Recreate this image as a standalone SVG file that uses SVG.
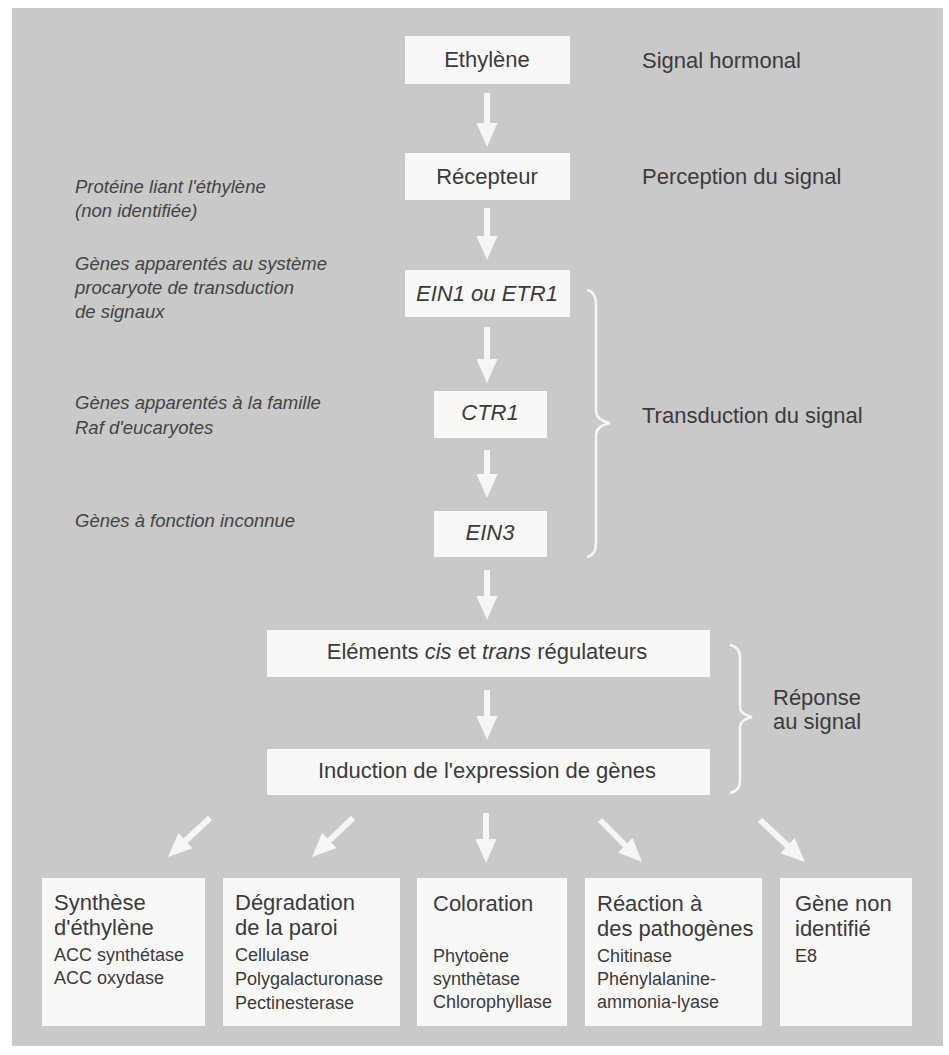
<svg xmlns="http://www.w3.org/2000/svg" width="949" height="1055" viewBox="0 0 949 1055">
<defs>
<marker id="ah" markerUnits="userSpaceOnUse" markerWidth="24" markerHeight="21" viewBox="0 0 24 21" refX="12" refY="10.5" orient="auto">
<path d="M0,0 L24,10.5 L0,21 z" fill="#f6f6f6"/>
</marker>
<style>
.bg{fill:#c9c9c9}
.box{fill:#f8f8f7}
.t{font-family:"Liberation Sans",Arial,sans-serif;font-size:22px;fill:#3b3b3b}
.i{font-family:"Liberation Sans",Arial,sans-serif;font-size:18.5px;font-style:italic;fill:#444}
.s{font-family:"Liberation Sans",Arial,sans-serif;font-size:18px;fill:#3b3b3b}
.c{text-anchor:middle}
.it{font-style:italic}
.arr{stroke:#f6f6f6;stroke-width:6;fill:none;marker-end:url(#ah)}
.br{stroke:#f6f6f6;stroke-width:2.5;fill:none}
</style>
</defs>
<rect x="0" y="0" width="949" height="1055" fill="#ffffff"/>
<rect class="bg" x="12" y="8" width="931" height="1038"/>

<g id="connectors">
<line class="arr" x1="487" y1="93" x2="487" y2="135"/>
<line class="arr" x1="487" y1="208" x2="487" y2="248"/>
<line class="arr" x1="487" y1="327" x2="487" y2="371"/>
<line class="arr" x1="487" y1="450" x2="487" y2="486"/>
<line class="arr" x1="487" y1="570" x2="487" y2="608"/>
<line class="arr" x1="487" y1="690" x2="487" y2="728"/>
<line class="arr" x1="210" y1="818" x2="176.8" y2="848.8"/>
<line class="arr" x1="353" y1="818" x2="320.7" y2="848.7"/>
<line class="arr" x1="486" y1="813" x2="486" y2="851"/>
<line class="arr" x1="600" y1="820" x2="633.5" y2="853.5"/>
<line class="arr" x1="760" y1="820" x2="796.2" y2="853.8"/>
<path class="br" d="M587,290 Q596,292 596,305 L596,411 Q596,420 610,423 Q596,426 596,435 L596,543 Q596,555 587,557"/>
<path class="br" d="M730,645 Q740,647 740,658 L740,707 Q740,714 752,717 Q740,720 740,727 L740,781 Q740,791 730,793"/>
</g>

<g id="ethylene">
<rect class="box" x="405" y="36" width="165" height="48"/>
<text class="t c" x="487" y="67">Ethylène</text>
</g>
<g id="recepteur">
<rect class="box" x="405" y="153" width="165" height="47"/>
<text class="t c" x="487" y="184">Récepteur</text>
</g>
<g id="ein1">
<rect class="box" x="405" y="270" width="165" height="47"/>
<text class="t c it" x="487" y="301">EIN1 ou ETR1</text>
</g>
<g id="ctr1">
<rect class="box" x="434" y="391" width="113" height="47"/>
<text class="t c it" x="490" y="420">CTR1</text>
</g>
<g id="ein3">
<rect class="box" x="434" y="511" width="113" height="46"/>
<text class="t c it" x="490" y="540">EIN3</text>
</g>
<g id="elements">
<rect class="box" x="267" y="630" width="443" height="47"/>
<text class="t c" x="487" y="659">Eléments <tspan class="it">cis</tspan> et <tspan class="it">trans</tspan> régulateurs</text>
</g>
<g id="induction">
<rect class="box" x="267" y="749" width="443" height="46"/>
<text class="t c" x="487" y="778">Induction de l'expression de gènes</text>
</g>

<g id="labels-right">
<text class="t" x="642" y="68">Signal hormonal</text>
<text class="t" x="642" y="184">Perception du signal</text>
<text class="t" x="642" y="423">Transduction du signal</text>
<text class="t" x="773" y="705">Réponse</text>
<text class="t" x="773" y="729">au signal</text>
</g>

<g id="labels-left">
<text class="i" x="75" y="193">Protéine liant l'éthylène</text>
<text class="i" x="75" y="217">(non identifiée)</text>
<text class="i" x="75" y="270">Gènes apparentés au système</text>
<text class="i" x="75" y="294">procaryote de transduction</text>
<text class="i" x="75" y="318">de signaux</text>
<text class="i" x="75" y="409">Gènes apparentés à la famille</text>
<text class="i" x="75" y="434">Raf d'eucaryotes</text>
<text class="i" x="75" y="527">Gènes à fonction inconnue</text>
</g>

<g id="synthese">
<rect class="box" x="42" y="878" width="163" height="148"/>
<text class="t" x="54" y="910">Synthèse</text>
<text class="t" x="54" y="935">d'éthylène</text>
<text class="s" x="54" y="961">ACC synthétase</text>
<text class="s" x="54" y="984">ACC oxydase</text>
</g>
<g id="degradation">
<rect class="box" x="223" y="878" width="177" height="148"/>
<text class="t" x="235" y="910">Dégradation</text>
<text class="t" x="235" y="935">de la paroi</text>
<text class="s" x="235" y="961">Cellulase</text>
<text class="s" x="235" y="985">Polygalacturonase</text>
<text class="s" x="235" y="1009">Pectinesterase</text>
</g>
<g id="coloration">
<rect class="box" x="417" y="878" width="150" height="148"/>
<text class="t" x="433" y="911">Coloration</text>
<text class="s" x="433" y="962">Phytoène</text>
<text class="s" x="433" y="985">synthètase</text>
<text class="s" x="433" y="1008">Chlorophyllase</text>
</g>
<g id="reaction">
<rect class="box" x="585" y="878" width="177" height="148"/>
<text class="t" x="597" y="911">Réaction à</text>
<text class="t" x="597" y="936">des pathogènes</text>
<text class="s" x="597" y="962">Chitinase</text>
<text class="s" x="597" y="985">Phénylalanine-</text>
<text class="s" x="597" y="1008">ammonia-lyase</text>
</g>
<g id="gene-non-identifie">
<rect class="box" x="780" y="878" width="132" height="148"/>
<text class="t" x="795" y="911">Gène non</text>
<text class="t" x="795" y="936">identifié</text>
<text class="s" x="795" y="962">E8</text>
</g>
</svg>
